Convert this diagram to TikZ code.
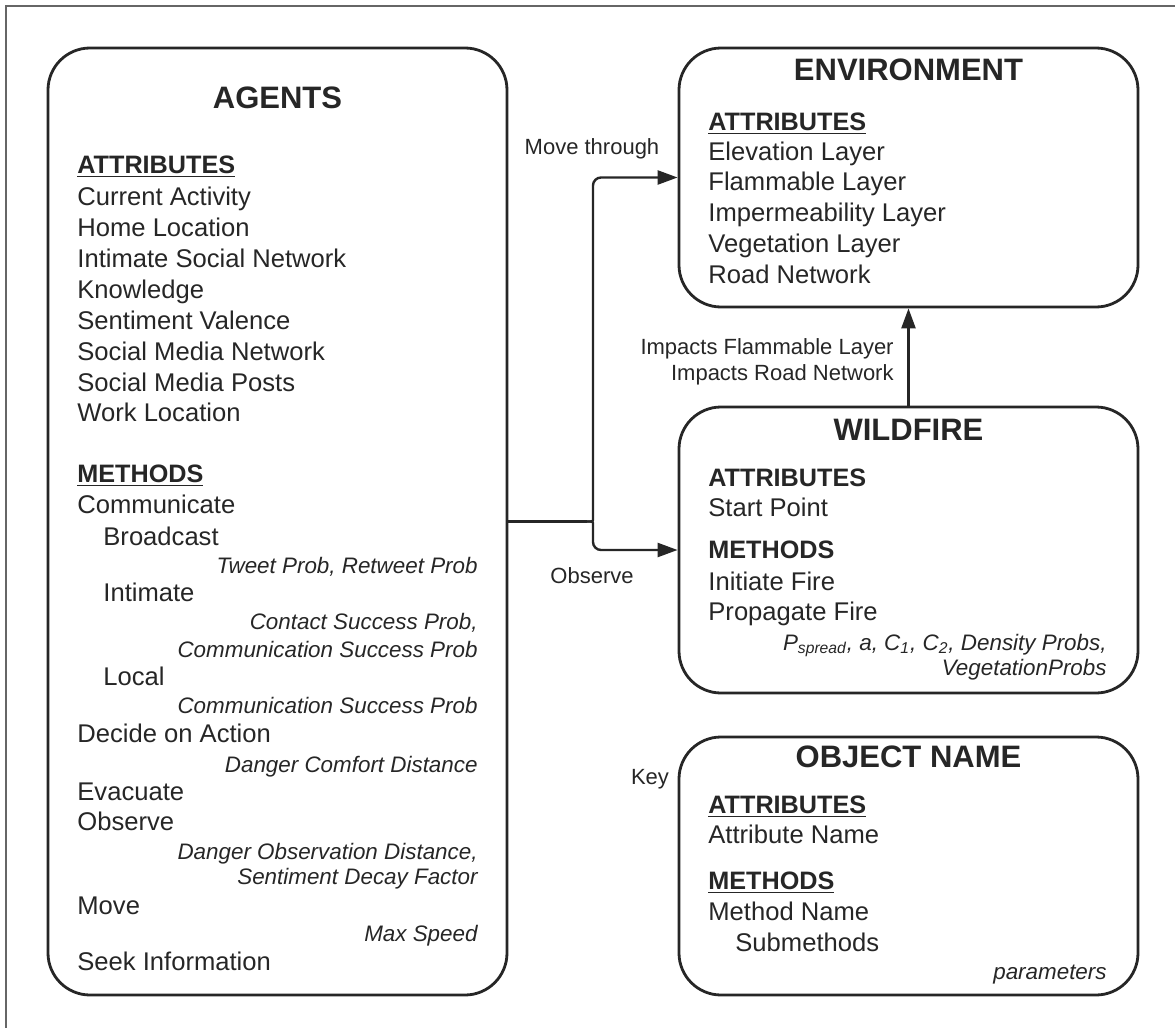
\documentclass[tikz,border=0pt]{standalone}
\usepackage{fontspec}
\setmainfont{Liberation Sans}
\usetikzlibrary{arrows.meta}

\begin{document}
\begin{tikzpicture}[x=0.5pt,y=-0.5pt,
  box/.style={draw=black!85,line width=1.4pt,rounded corners=21pt,inner sep=0pt},
  txt/.style={anchor=base west,inner sep=0pt,text=black!85,font=\fontsize{12.8}{15}\selectfont},
  head/.style={txt,font=\fontsize{12.6}{15}\selectfont\bfseries},
  param/.style={anchor=base east,inner sep=0pt,text=black!85,font=\fontsize{11.2}{13}\selectfont\itshape},
  title/.style={anchor=base,inner sep=0pt,text=black!85,font=\fontsize{15.5}{18}\selectfont\bfseries},
  lbl/.style={anchor=base,inner sep=0pt,text=black!85,font=\fontsize{11}{13}\selectfont},
  conn/.style={draw=black!85,line width=1.2pt},
  arr/.style={conn,-{Triangle[length=10pt,width=7pt]}}]

\useasboundingbox (0,0) rectangle (1175,1028);
\draw[black!60,line width=0.8pt] (6,1028) -- (6,6) -- (1175,6);

% boxes
\node[box,minimum width=229.5pt,minimum height=473.5pt] (agents) at (277.5,521.5) {};
\node[box,minimum width=229.5pt,minimum height=129.5pt] (env) at (908.5,177.5) {};
\node[box,minimum width=229.5pt,minimum height=143pt] (fire) at (908.5,550) {};
\node[box,minimum width=229.5pt,minimum height=129pt] (key) at (908.5,866) {};

% agents
\node[title] (agtitle) at (277.5,108) {AGENTS};
\node[head] (agattr) at (77,173) {\underline{ATTRIBUTES}};
\foreach \y/\t [count=\i] in {205/Current Activity,236/Home Location,267/Intimate Social Network,298/Knowledge,329/Sentiment Valence,360/Social Media Network,391/Social Media Posts,421/Work Location}
  \node[txt] (aga\i) at (77,\y) {\t};
\node[head] (agmeth) at (77,482) {\underline{METHODS}};
\foreach \x/\y/\t [count=\i] in {77/513/Communicate,103/545/Broadcast,103/601/Intimate,103/685/Local,77/742/Decide on Action,77/800/Evacuate,77/830/Observe,77/914/Move,77/970/Seek Information}
  \node[txt] (agm\i) at (\x,\y) {\t};
\foreach \y/\t [count=\i] in {573/{Tweet Prob, Retweet Prob},629/{Contact Success Prob,},657/Communication Success Prob,713/Communication Success Prob,772/Danger Comfort Distance,859/{Danger Observation Distance,},884/Sentiment Decay Factor,941/Max Speed}
  \node[param] (agp\i) at (478,\y) {\t};

% environment
\node[title] (envtitle) at (908.5,80) {ENVIRONMENT};
\node[head] (envattr) at (708,130) {\underline{ATTRIBUTES}};
\foreach \y/\t [count=\i] in {160/Elevation Layer,191/Flammable Layer,221/Impermeability Layer,252/Vegetation Layer,283/Road Network}
  \node[txt] (enva\i) at (708,\y) {\t};

% wildfire
\node[title] (firetitle) at (908.5,440) {WILDFIRE};
\node[head] (fireattr) at (708,486) {ATTRIBUTES};
\node[txt] (firea1) at (708,516) {Start Point};
\node[head] (firemeth) at (708,558) {METHODS};
\node[txt] (firem1) at (708,590) {Initiate Fire};
\node[txt] (firem2) at (708,620) {Propagate Fire};
\node[param] (firep1) at (1107,650) {P\textsubscript{spread}, a, C\textsubscript{1}, C\textsubscript{2}, Density Probs,};
\node[param] (firep2) at (1107,675) {VegetationProbs};

% key
\node[title] (keytitle) at (908.5,767) {OBJECT NAME};
\node[lbl] (keylbl) at (650,784) {Key};
\node[head] (keyattr) at (708,813) {\underline{ATTRIBUTES}};
\node[txt] (keya1) at (708,843) {Attribute Name};
\node[head] (keymeth) at (708,889) {\underline{METHODS}};
\node[txt] (keym1) at (708,920) {Method Name};
\node[txt] (keym2) at (735,951) {Submethods};
\node[param] (keyp1) at (1107,979) {parameters};

% links
\node[lbl] (movelbl) at (592,154) {Move through};
\node[lbl] (obslbl) at (592,583) {Observe};
\node[lbl,anchor=base east] (imp1) at (894,354) {Impacts Flammable Layer};
\node[lbl,anchor=base east] (imp2) at (894,380) {Impacts Road Network};
\coordinate (split) at (587,521.5);
\draw[conn] (agents.east) -- (split);
\draw[arr,rounded corners=4pt] (split) .. controls (593,521.5) .. (593,512) |- (env.west);
\draw[arr,rounded corners=4pt] (split) .. controls (593,521.5) .. (593,531) |- (fire.west);
\draw[arr] (fire.north) -- (env.south);
\end{tikzpicture}
\end{document}
